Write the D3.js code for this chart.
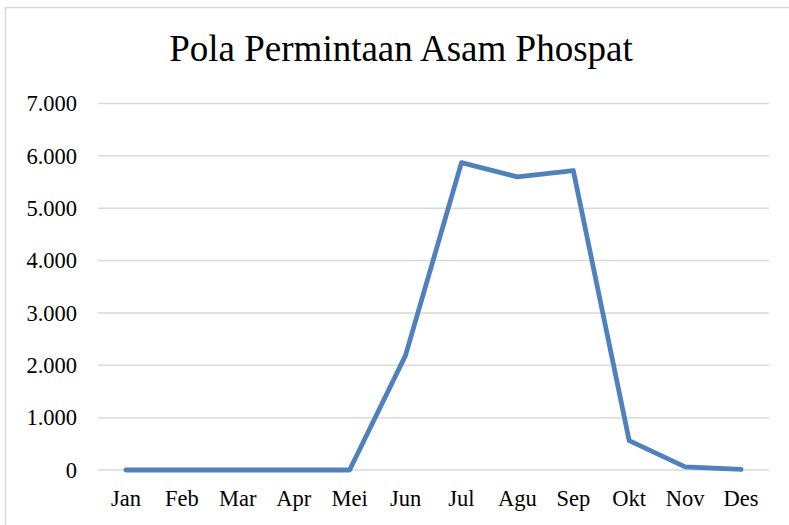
<!DOCTYPE html>
<html>
<head>
<meta charset="utf-8">
<script src="https://cdn.jsdelivr.net/npm/d3@7"></script>
<style>
  html, body { margin: 0; padding: 0; background: #fff; }
  svg { display: block; font-family: 'Liberation Serif', 'Times New Roman', serif; }
</style>
</head>
<body>
<div id="chart"></div>
<script>
const months = ["Jan", "Feb", "Mar", "Apr", "Mei", "Jun", "Jul", "Agu", "Sep", "Okt", "Nov", "Des"];
const demand = [0, 0, 0, 0, 0, 2190, 5870, 5600, 5720, 560, 60, 10];
const yTicks = [0, 1000, 2000, 3000, 4000, 5000, 6000, 7000];

const W = 789, H = 525;
const margin = { top: 103.5, right: 20, bottom: 55, left: 98 };

const svg = d3.select("#chart").append("svg")
  .attr("width", W).attr("height", H);

// chart frame (cropped at right and bottom)
svg.append("rect")
  .attr("x", 5.5).attr("y", 7.5).attr("width", 820).attr("height", 540)
  .attr("fill", "#fff").attr("stroke", "#d9d9d9").attr("stroke-width", 1.5);

const x = d3.scaleBand().domain(months).range([margin.left, W - margin.right]);
const y = d3.scaleLinear().domain([0, 7000]).range([H - margin.bottom, margin.top]);

const idLocale = d3.formatLocale({ decimal: ",", thousands: ".", grouping: [3], currency: ["Rp", ""] });
const fmt = idLocale.format(",d");

// gridlines
svg.append("g").selectAll("line").data(yTicks).enter().append("line")
  .attr("x1", margin.left).attr("x2", W - margin.right)
  .attr("y1", d => y(d)).attr("y2", d => y(d))
  .attr("stroke", "#d9d9d9").attr("stroke-width", 1.5);

// y axis labels
const yAxis = svg.append("g")
  .attr("transform", `translate(${margin.left},0)`)
  .call(d3.axisLeft(y).tickValues(yTicks).tickFormat(fmt).tickSize(0).tickPadding(21));
yAxis.select(".domain").remove();
yAxis.selectAll("text")
  .style("font-family", "'Liberation Serif', serif").style("font-size", "22.5px").style("fill", "#000");

// x axis labels
const xAxis = svg.append("g")
  .attr("transform", `translate(0,${y(0)})`)
  .call(d3.axisBottom(x).tickSize(0).tickPadding(20));
xAxis.select(".domain").remove();
xAxis.selectAll("text")
  .style("font-family", "'Liberation Serif', serif").style("font-size", "22.5px").style("fill", "#000");

// line
const line = d3.line().x((d, i) => x(months[i]) + x.bandwidth() / 2).y(d => y(d));
svg.append("path").datum(demand)
  .attr("d", line)
  .attr("fill", "none").attr("stroke", "#4f81bd").attr("stroke-width", 4.8)
  .attr("stroke-linejoin", "round").attr("stroke-linecap", "round");

// title
svg.append("text")
  .attr("x", 401).attr("y", 61).attr("text-anchor", "middle")
  .style("font-size", "37px").style("fill", "#000")
  .text("Pola Permintaan Asam Phospat");
</script>
</body>
</html>
